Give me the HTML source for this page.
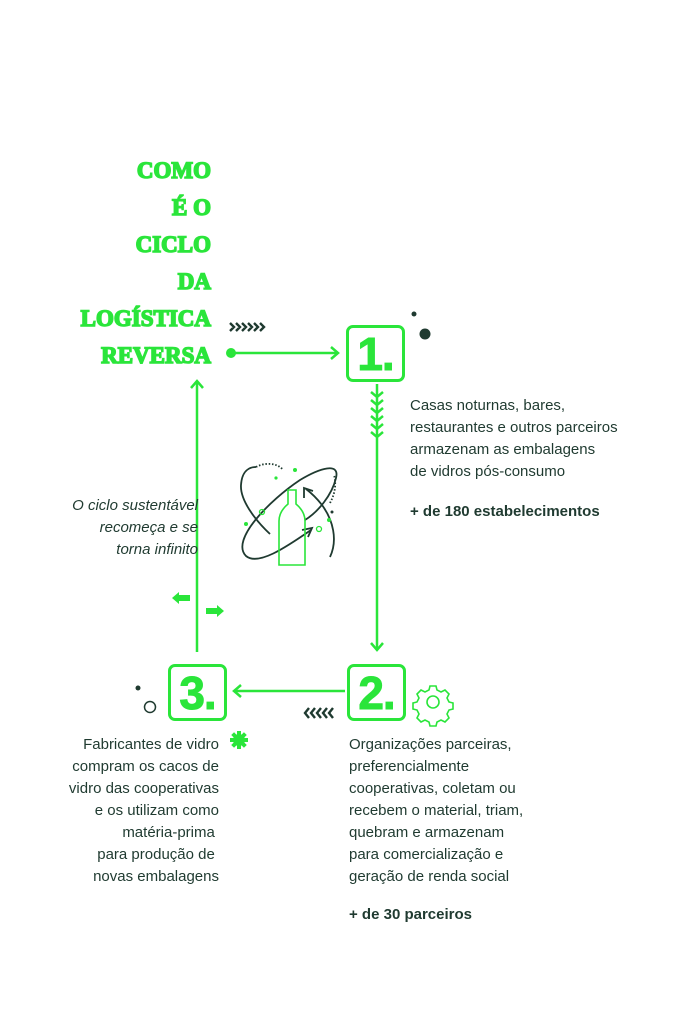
<!DOCTYPE html>
<html><head><meta charset="utf-8"><style>
html,body{margin:0;padding:0;background:#fff;width:683px;height:1024px;overflow:hidden;position:relative;font-family:"Liberation Sans",sans-serif;color:#1f3a30}
.t{position:absolute;font-size:15px;line-height:22px;white-space:nowrap}
.title{position:absolute;right:472px;top:152px;text-align:right;font-family:"Liberation Serif",serif;font-weight:900;color:#2ae53a;font-size:23px;line-height:37px;letter-spacing:0px;-webkit-text-stroke:1.5px #2ae53a}
.box{position:absolute;width:53px;height:51px;border:3px solid #2ae53a;border-radius:7px;color:#2ae53a;font-family:"Liberation Sans",sans-serif;font-weight:900;font-size:46px;line-height:52px;text-align:center;letter-spacing:-1px;-webkit-text-stroke:1px #2ae53a}
</style></head><body>
<div class="title">COMO<br>É O<br>CICLO<br>DA<br>LOGÍSTICA<br>REVERSA</div>

<svg width="683" height="1024" style="position:absolute;left:0;top:0" xmlns="http://www.w3.org/2000/svg">
<g stroke="#2ae53a" stroke-width="2.5" fill="none">
<line x1="231" y1="353" x2="338" y2="353"/><polyline points="331,347 338,353 331,359"/>
<line x1="377" y1="384" x2="377" y2="650"/><polyline points="371,643 377,650 383,643"/>
<line x1="345" y1="691" x2="234" y2="691"/><polyline points="241,685 234,691 241,697"/>
<line x1="197" y1="652" x2="197" y2="381"/><polyline points="191,388 197,381 203,388"/>
<path d="M371,392 l6,5 l6,-5 M371,400 l6,5 l6,-5 M371,408 l6,5 l6,-5 M371,416 l6,5 l6,-5 M371,424 l6,5 l6,-5 M371,432 l6,5 l6,-5"/>
</g>
<circle cx="231" cy="353" r="5" fill="#2ae53a"/>
<g stroke="#1f3a30" stroke-width="2.4" fill="none">
<path d="M230,323 l4,4 l-4,4 M236,323 l4,4 l-4,4 M242,323 l4,4 l-4,4 M248,323 l4,4 l-4,4 M254,323 l4,4 l-4,4 M260,323 l4,4 l-4,4"/>
<path d="M309,708 l-4,5 l4,5 M315,708 l-4,5 l4,5 M321,708 l-4,5 l4,5 M327,708 l-4,5 l4,5 M333,708 l-4,5 l4,5"/>
</g>
<circle cx="414" cy="314" r="2.5" fill="#1f3a30"/>
<circle cx="425" cy="334" r="5.5" fill="#1f3a30"/>
<circle cx="138" cy="688" r="2.5" fill="#1f3a30"/>
<circle cx="150" cy="707" r="5.5" fill="none" stroke="#1f3a30" stroke-width="1.5"/>
<path d="M172,598 l7,-6 v3 h11 v6 h-11 v3 z" fill="#2ae53a"/>
<path d="M224,611 l-7,-6 v3 h-11 v6 h11 v3 z" fill="#2ae53a"/>
<circle cx="239" cy="740" r="6" fill="#2ae53a"/>
<g fill="#2ae53a"><rect x="237" y="731" width="4" height="18"/><rect x="230" y="738" width="18" height="4"/><rect x="237" y="731" width="4" height="18" transform="rotate(45 239 740)"/><rect x="237" y="731" width="4" height="18" transform="rotate(-45 239 740)"/></g>
<g transform="translate(433,702)" stroke="#2ae53a" stroke-width="1.6" fill="none">
<path d="M-3,-16 h6 l1,4 l4,2 l4,-2 l4,4 l-2,4 l2,4 l4,1 v6 l-4,1 l-2,4 l2,4 l-4,4 l-4,-2 l-4,2 l-1,4 h-6 l-1,-4 l-4,-2 l-4,2 l-4,-4 l2,-4 l-2,-4 l-4,-1 v-6 l4,-1 l2,-4 l-2,-4 l4,-4 l4,2 l4,-2 z"/>
<circle r="6"/></g>
<g fill="none" stroke="#1f3a30" stroke-width="1.8">
<path d="M311,530 C285,548 258,566 246,556 C230,540 270,500 300,480 C320,468 340,462 336,478 C332,495 318,512 305,520"/>
<path d="M270,534 C255,520 240,500 241,485 C242,470 250,467 256,467"/>
<path d="M256,467 C265,462 278,463 283,470" stroke-dasharray="1.5 1.8"/>
<path d="M330,557 C338,540 333,520 322,505 C315,496 310,492 306,489"/>
<path d="M304,498 l0,-10 l9,3"/>
<path d="M302,530 l10,-2 l-4,9"/>
<path d="M330,503 C336,492 336,482 334,475" stroke-dasharray="1.5 1.8"/>
</g>
<circle cx="332" cy="512" r="1.5" fill="#1f3a30"/>
<path d="M288,490 h8 v14 c6,5 9,10 9,17 v44 h-26 v-44 c0,-7 3,-12 9,-17 z" fill="none" stroke="#2ae53a" stroke-width="1.6"/>
<circle cx="262" cy="512" r="2.5" fill="none" stroke="#2ae53a" stroke-width="1.3"/>
<circle cx="319" cy="529" r="2.5" fill="none" stroke="#2ae53a" stroke-width="1.3"/>
<circle cx="276" cy="478" r="1.6" fill="#2ae53a"/>
<circle cx="246" cy="524" r="2" fill="#2ae53a"/><circle cx="329" cy="520" r="2" fill="#2ae53a"/><circle cx="295" cy="470" r="2" fill="#2ae53a"/>
</svg>

<div class="box" style="left:346px;top:325px">1.</div>
<div class="box" style="left:347px;top:664px">2.</div>
<div class="box" style="left:168px;top:664px">3.</div>

<div class="t" style="left:410px;top:395px">Casas noturnas, bares,<br>restaurantes e outros parceiros<br>armazenam as embalagens<br>de vidros pós-consumo</div>
<div class="t" style="left:410px;top:501px;font-weight:bold">+ de 180 estabelecimentos</div>
<div class="t" style="right:485px;top:495px;text-align:right;font-style:italic">O ciclo sustentável<br>recomeça e se<br>torna infinito</div>
<div class="t" style="right:464px;top:734px;text-align:right">Fabricantes de vidro<br>compram os cacos de<br>vidro das cooperativas<br>e os utilizam como<br>matéria-prima&nbsp;<br>para produção de&nbsp;<br>novas embalagens</div>
<div class="t" style="left:349px;top:734px">Organizações parceiras,<br>preferencialmente<br>cooperativas, coletam ou<br>recebem o material, triam,<br>quebram e armazenam<br>para comercialização e<br>geração de renda social</div>
<div class="t" style="left:349px;top:904px;font-weight:bold">+ de 30 parceiros</div>
</body></html>
